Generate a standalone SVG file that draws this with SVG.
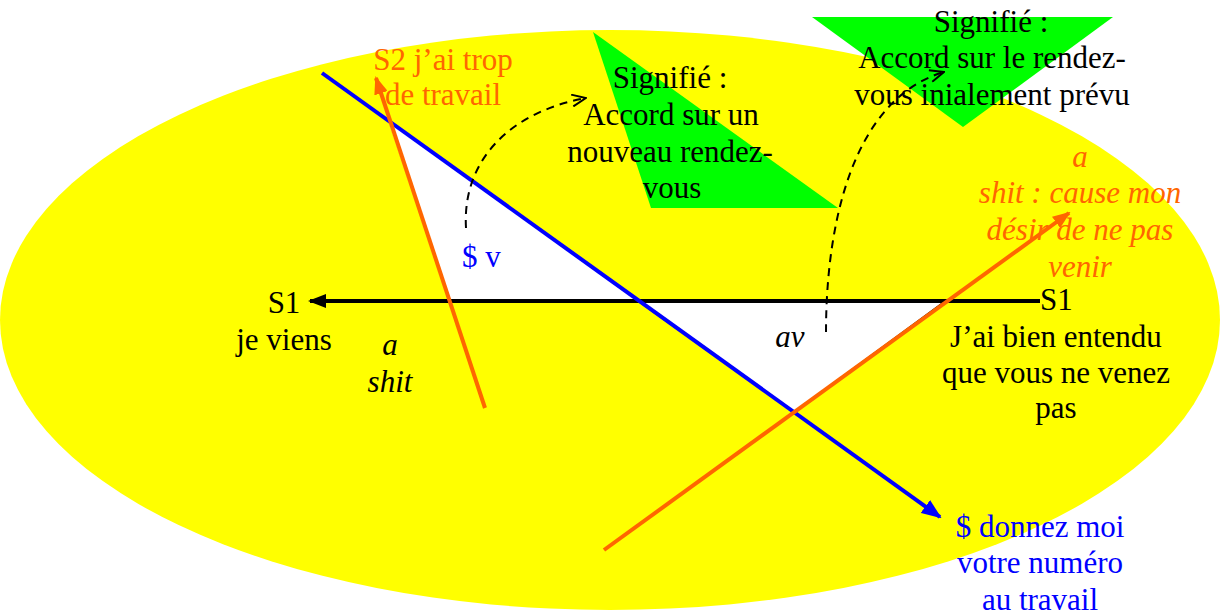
<svg xmlns="http://www.w3.org/2000/svg" width="1226" height="615" viewBox="0 0 1226 615">
<defs>
<style>
.t{font-family:"Liberation Serif","Times New Roman",serif;font-size:31px;text-anchor:middle}
.k{fill:#000}
.o{fill:#FF6600}
.b{fill:#0000FF}
.i{font-style:italic}
.ln{fill:none;stroke-width:4}
.d{fill:none;stroke:#000;stroke-width:2;stroke-dasharray:8,6}
</style>
<marker id="ab" viewBox="0 0 20 16" refX="18" refY="8" markerWidth="20" markerHeight="16" markerUnits="userSpaceOnUse" orient="auto"><path d="M0,0 L20,8 L0,16 Z" fill="#0000FF"/></marker>
<marker id="ao" viewBox="0 0 18 14" refX="16" refY="7" markerWidth="18" markerHeight="14" markerUnits="userSpaceOnUse" orient="auto"><path d="M0,0 L18,7 L0,14 Z" fill="#FF6600"/></marker>
<marker id="ak" viewBox="0 0 18 14" refX="16" refY="7" markerWidth="18" markerHeight="14" markerUnits="userSpaceOnUse" orient="auto"><path d="M0,0 L18,7 L0,14 Z" fill="#000"/></marker>
<marker id="av" viewBox="0 0 16 14" refX="15" refY="7" markerWidth="16" markerHeight="14" markerUnits="userSpaceOnUse" orient="auto"><path d="M1,1 L15,7 L1,13" fill="none" stroke="#000" stroke-width="2"/></marker>
</defs>
<rect width="1226" height="615" fill="#fff"/>
<ellipse id="field" cx="610" cy="320" rx="610" ry="290" fill="#FFFF00"/>
<g id="tri-nouveau"><polygon points="593,32 838,208 651,208" fill="#00FF00"/></g>
<g id="tri-initial"><polygon points="812,17 1113,17 963,127" fill="#00FF00"/></g>
<g id="holes">
<polygon points="388,120 449,301 638,301" fill="#fff"/>
<polygon points="638,301 945,301 794,412" fill="#fff" stroke="#000" stroke-width="1.5"/>
</g>
<g id="connectors">
<line class="ln" x1="1040" y1="301" x2="310" y2="301" stroke="#000" marker-end="url(#ak)"/>
<line class="ln" x1="322" y1="73" x2="940" y2="517" stroke="#0000FF" marker-end="url(#ab)"/>
<line class="ln" x1="485" y1="408" x2="376" y2="78" stroke="#FF6600" marker-end="url(#ao)"/>
<line class="ln" x1="604" y1="550" x2="1069" y2="213" stroke="#FF6600" marker-end="url(#ao)"/>
<path class="d" d="M466,228 C462,160 510,112 586,98" marker-end="url(#av)"/>
<path class="d" d="M826,332 C826,230 850,100 944,72" marker-end="url(#av)"/>
</g>
<g id="label-s2"><text class="t o" x="443" y="70">S2 j’ai trop</text><text class="t o" x="443" y="105">de travail</text></g>
<g id="label-signifie1" class="t k"><text class="t k" x="670" y="88">Signifié :</text><text class="t k" x="671" y="125">Accord sur un</text><text class="t k" x="670" y="162">nouveau rendez-</text><text class="t k" x="672" y="198">vous</text></g>
<g id="label-signifie2"><text class="t k" x="991" y="32">Signifié :</text><text class="t k" x="992" y="68">Accord sur le rendez-</text><text class="t k" x="992" y="105">vous inialement prévu</text></g>
<g id="label-ashit-right"><text class="t o i" x="1080" y="167">a</text><text class="t o i" x="1080" y="203">shit : cause mon</text><text class="t o i" x="1080" y="240">désir de ne pas</text><text class="t o i" x="1080" y="277">venir</text></g>
<g id="label-s1-right"><text class="t k" x="1040" y="310" style="text-anchor:start">S1</text><text class="t k" x="1056" y="347">J’ai bien entendu</text><text class="t k" x="1056" y="383">que vous ne venez</text><text class="t k" x="1056" y="418">pas</text></g>
<g id="label-sv"><text class="t b" x="462" y="267" style="text-anchor:start">$ v</text></g>
<g id="label-s1-left"><text class="t k" x="284" y="313">S1</text><text class="t k" x="284" y="350">je viens</text></g>
<g id="label-ashit-left"><text class="t k i" x="390" y="355">a</text><text class="t k i" x="390" y="392">shit</text></g>
<g id="label-av"><text class="t k i" x="790" y="347">av</text></g>
<g id="label-donnez"><text class="t b" x="1040" y="537">$ donnez moi</text><text class="t b" x="1040" y="573">votre numéro</text><text class="t b" x="1040" y="610">au travail</text></g>
</svg>
